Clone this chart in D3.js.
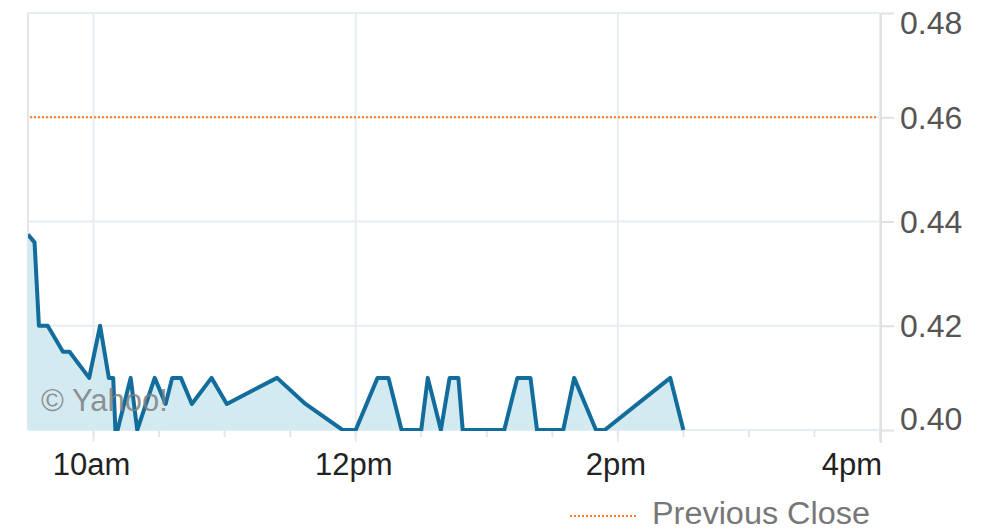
<!DOCTYPE html>
<html><head><meta charset="utf-8">
<script src="https://cdn.jsdelivr.net/npm/d3@7"></script>
<style>html,body{margin:0;padding:0;background:#fff;}svg{display:block;font-family:"Liberation Sans",Arial,sans-serif;}</style>
</head><body>
<svg id="c" width="998" height="531"></svg>
<script>
const times = ["09:30","09:33","09:35","09:39","09:46","09:49","09:58","10:03","10:07","10:09","10:10","10:11","10:17","10:20","10:28","10:33","10:36","10:40","10:45","10:54","11:01","11:24","11:37","11:54","12:00","12:10","12:15","12:21","12:30","12:33","12:39","12:43","12:47","12:49","13:08","13:14","13:20","13:23","13:35","13:40","13:50","13:54","14:24","14:30"];
const prices = [0.4375,0.436,0.42,0.42,0.415,0.415,0.41,0.42,0.41,0.41,0.40,0.40,0.41,0.40,0.41,0.405,0.41,0.41,0.405,0.41,0.405,0.41,0.405,0.40,0.40,0.41,0.41,0.40,0.40,0.41,0.40,0.41,0.41,0.40,0.40,0.41,0.41,0.40,0.40,0.41,0.40,0.40,0.41,0.40];
const previousClose = 0.46;
const yTicks = [0.40,0.42,0.44,0.46,0.48];
const xLabelTimes = ["10:00","12:00","14:00","16:00"];
const xLabels = ["10am","12pm","2pm","4pm"];
const minorTickTimes = ["10:00","10:30","11:00","11:30","12:00","12:30","13:00","13:30","14:00","14:30","15:00","15:30","16:00"];
const legendLabel = "Previous Close";
const watermark = "\u00A9 Yahoo!";

const parse = s => { const [h,m] = s.split(":").map(Number); return new Date(2010,0,4,h,m); };
const L = 28, R = 880, T = 13, B = 430;
const x = d3.scaleTime().domain([parse("09:30"), parse("16:00")]).range([L, R]);
const y = d3.scaleLinear().domain([0.40, 0.48]).range([B, T]);
const data = times.map((t,i) => ({t: parse(t), v: prices[i]}));

const svg = d3.select("#c");
const defs = svg.append("defs");
defs.append("clipPath").attr("id","clip").append("rect").attr("x",L).attr("y",T).attr("width",R-L).attr("height",B-T+1);

const grid = "#e6edf2";
svg.append("g").selectAll("line").data(yTicks).join("line")
  .attr("x1",L).attr("x2",R).attr("y1",d=>y(d)).attr("y2",d=>y(d))
  .attr("stroke",grid).attr("stroke-width",2);
svg.append("g").selectAll("line").data(xLabelTimes).join("line")
  .attr("x1",d=>x(parse(d))).attr("x2",d=>x(parse(d))).attr("y1",T).attr("y2",B+12)
  .attr("stroke",grid).attr("stroke-width",2);
svg.append("line").attr("x1",L).attr("x2",L).attr("y1",T).attr("y2",B).attr("stroke","#e2e6ea").attr("stroke-width",2);
svg.append("g").selectAll("line").data(minorTickTimes).join("line")
  .attr("x1",d=>x(parse(d))).attr("x2",d=>x(parse(d))).attr("y1",B).attr("y2",B+7)
  .attr("stroke","#e2e6ea").attr("stroke-width",2);

const plot = svg.append("g").attr("clip-path","url(#clip)");
plot.append("path").datum(data)
  .attr("d", d3.area().x(d=>x(d.t)).y0(y(0.40)).y1(d=>y(d.v)))
  .attr("fill","#d3eaf1");

svg.append("text").attr("x",41).attr("y",411).attr("font-size",31).attr("fill","#808080").attr("fill-opacity",0.85).text(watermark);

plot.append("path").datum(data)
  .attr("d", d3.line().x(d=>x(d.t)).y(d=>y(d.v)))
  .attr("fill","none").attr("stroke","#126c9c").attr("stroke-width",4).attr("stroke-linejoin","round");

svg.append("line").attr("x1",L+2).attr("x2",R-2).attr("y1",y(previousClose)).attr("y2",y(previousClose))
  .attr("stroke","#ff7a22").attr("stroke-width",2).attr("stroke-dasharray","2,2");

const ya = d3.axisRight(y).tickValues(yTicks).tickFormat(d3.format(".2f")).tickSize(13).tickPadding(6);
const yg = svg.append("g").attr("transform",`translate(${R+1},0)`).call(ya);
yg.select(".domain").attr("d",`M0,${T}V${B+13}`).attr("stroke","#dfe2e5").attr("stroke-width",2);
yg.selectAll(".tick line").attr("stroke","#dfe2e5").attr("stroke-width",2);
yg.selectAll(".tick text").attr("font-size",32).attr("fill","#555").attr("font-family","Liberation Sans, Arial, sans-serif")
  .attr("dy",null).attr("dominant-baseline","central")
  .attr("y", d => { const p = y(d); return Math.min(Math.max(p, T+9), B-12) - p; });

svg.append("g").selectAll("text").data(xLabelTimes).join("text")
  .attr("x",(d,i)=> i===xLabelTimes.length-1 ? x(parse(d))+2 : x(parse(d))-2)
  .attr("y",475).attr("text-anchor",(d,i)=> i===xLabelTimes.length-1 ? "end":"middle")
  .attr("font-size",31).attr("fill","#222").text((d,i)=>xLabels[i]);

svg.append("line").attr("x1",570).attr("x2",636).attr("y1",516).attr("y2",516)
  .attr("stroke","#ff7a22").attr("stroke-width",2).attr("stroke-dasharray","2,2");
svg.append("text").attr("x",652).attr("y",524).attr("font-size",31).attr("fill","#777")
  .attr("textLength",218).attr("lengthAdjust","spacingAndGlyphs").text(legendLabel);
</script>
</body></html>
